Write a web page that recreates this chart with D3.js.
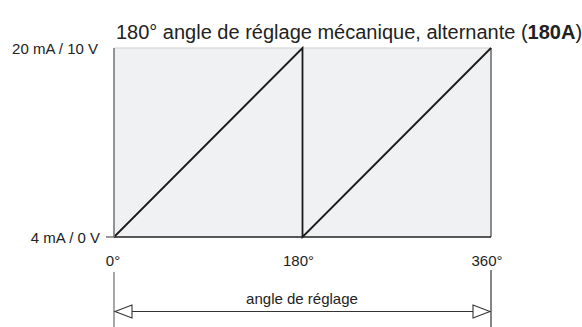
<!DOCTYPE html>
<html><head><meta charset="utf-8">
<script src="https://cdn.jsdelivr.net/npm/d3@7"></script>
<style>body{margin:0;background:#fff}svg{display:block}</style>
</head><body>
<svg id="c" width="582" height="327"></svg>
<script>
const titleParts = ["180° angle de réglage mécanique, alternante (", "180A", ")"];
const xTicks = [0, 180, 360];
const xTickLabels = ["0°", "180°", "360°"];
const yLabels = ["4 mA / 0 V", "20 mA / 10 V"];
const yDomain = [0, 100];
const sawX = [0, 180, 180, 360];
const sawY = [0, 100, 0, 100];
const rangeLabel = "angle de réglage";

const svg = d3.select("#c");
const font = "'Liberation Sans', Arial, sans-serif";
const x = d3.scaleLinear().domain([0, 360]).range([114, 491]);
const y = d3.scaleLinear().domain(yDomain).range([237, 48]);

svg.append("rect").attr("x", x(0)).attr("y", y(100)).attr("width", x(360) - x(0)).attr("height", y(0) - y(100))
  .attr("fill", "#f0f1f3");
svg.append("path").attr("d", `M${x(0)},${y(100)}H${x(360)}V${y(0)}`).attr("fill", "none").attr("stroke", "#cfcfcf").attr("stroke-width", 1.2);
svg.append("line").attr("x1", x(360)).attr("x2", x(360)).attr("y1", y(100)).attr("y2", y(0)).attr("stroke", "#555").attr("stroke-width", 1.2);

const pts = sawX.map((v, i) => [v, sawY[i]]);
svg.append("path").datum(pts).attr("d", d3.line().x(d => x(d[0])).y(d => y(d[1])))
  .attr("fill", "none").attr("stroke", "#1a1a1a").attr("stroke-width", 1.8).attr("stroke-linejoin", "miter");

svg.append("line").attr("x1", x(0)).attr("x2", x(360)).attr("y1", y(0)).attr("y2", y(0)).attr("stroke", "#222").attr("stroke-width", 1.5);
svg.append("line").attr("x1", x(0)).attr("x2", x(0)).attr("y1", y(100)).attr("y2", y(0)).attr("stroke", "#7a7a7a").attr("stroke-width", 1.6);
svg.append("line").attr("x1", x(0) - 8).attr("x2", x(0)).attr("y1", y(0)).attr("y2", y(0)).attr("stroke", "#555").attr("stroke-width", 1.2);

const fs = 15;
svg.append("text").attr("x", 100).attr("y", y(0) + 2).attr("text-anchor", "end").attr("dominant-baseline", "middle")
  .attr("font-family", font).attr("font-size", fs).attr("fill", "#222").text(yLabels[0]);
svg.append("text").attr("x", 98).attr("y", 50).attr("text-anchor", "end").attr("dominant-baseline", "middle")
  .attr("font-family", font).attr("font-size", fs).attr("fill", "#222").text(yLabels[1]);

const xOff = [-1, -4, -4];
xTicks.forEach((t, i) => {
  svg.append("text").attr("x", x(t) + xOff[i]).attr("y", 262).attr("text-anchor", "middle").attr("dominant-baseline", "middle")
    .attr("font-family", font).attr("font-size", fs).attr("fill", "#222").text(xTickLabels[i]);
});

const tt = svg.append("text").attr("x", 349).attr("y", 39).attr("text-anchor", "middle")
  .attr("font-family", font).attr("font-size", 20).attr("fill", "#222");
tt.append("tspan").text(titleParts[0]);
tt.append("tspan").attr("font-weight", "bold").text(titleParts[1]);
tt.append("tspan").text(titleParts[2]);

svg.append("line").attr("x1", x(0)).attr("x2", x(0)).attr("y1", 272).attr("y2", 327).attr("stroke", "#777").attr("stroke-width", 1.3);
svg.append("line").attr("x1", x(360)).attr("x2", x(360)).attr("y1", 270).attr("y2", 327).attr("stroke", "#444").attr("stroke-width", 1.3);
const ay = 311.5;
svg.append("line").attr("x1", x(0) + 17).attr("x2", x(360) - 17).attr("y1", ay).attr("y2", ay).attr("stroke", "#333").attr("stroke-width", 1.2);
svg.append("path").attr("d", `M${x(0)+1},${ay}L${x(0)+18},${ay-6.5}V${ay+6.5}Z`).attr("fill", "#fff").attr("stroke", "#333").attr("stroke-width", 1.1);
svg.append("path").attr("d", `M${x(360)-1},${ay}L${x(360)-18},${ay-6.5}V${ay+6.5}Z`).attr("fill", "#fff").attr("stroke", "#333").attr("stroke-width", 1.1);
svg.append("text").attr("x", 302).attr("y", 300).attr("text-anchor", "middle").attr("dominant-baseline", "middle")
  .attr("font-family", font).attr("font-size", fs).attr("fill", "#222").text(rangeLabel);
</script>
</body></html>
